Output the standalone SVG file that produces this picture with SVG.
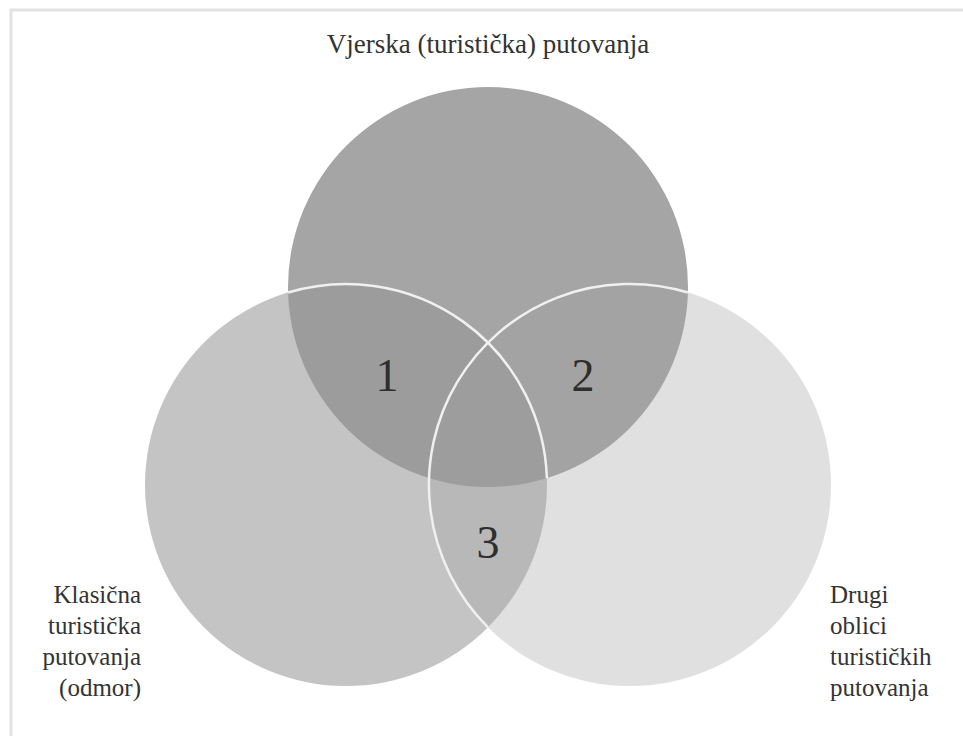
<svg xmlns="http://www.w3.org/2000/svg" width="963" height="736" viewBox="0 0 963 736">
<style>
  .lbl { font-family: "Liberation Serif", "DejaVu Serif", serif; font-size: 25px; fill: #333333; }
  .ttl { font-family: "Liberation Serif", "DejaVu Serif", serif; font-size: 27px; fill: #333333; text-anchor: middle; }
  .num { font-family: "Liberation Serif", "DejaVu Serif", serif; font-size: 46px; fill: #2e2e2e; text-anchor: middle; }
  .edge { fill: none; stroke: #f0f0f0; stroke-width: 2.5; }
</style>
<rect x="0" y="0" width="963" height="736" fill="#ffffff"/>
<path d="M11,736 V10 H963" fill="none" stroke="#e2e2e2" stroke-width="3"/>
<g id="node-religious">
  <circle cx="488" cy="287" r="200" fill="#a5a5a5"/>
  <text class="ttl" x="488" y="53">Vjerska (turistička) putovanja</text>
</g>
<g id="node-classic">
  <circle cx="346" cy="485" r="201" fill="#959595" fill-opacity="0.56"/>
  <text class="lbl" text-anchor="end"><tspan x="141" y="603">Klasična</tspan><tspan x="141" y="634">turistička</tspan><tspan x="141" y="665">putovanja</tspan><tspan x="141" y="696">(odmor)</tspan></text>
</g>
<g id="node-other">
  <circle cx="630" cy="485" r="201" fill="#a0a0a0" fill-opacity="0.33"/>
  <text class="lbl"><tspan x="830" y="603">Drugi</tspan><tspan x="830" y="634">oblici</tspan><tspan x="830" y="665">turističkih</tspan><tspan x="830" y="696">putovanja</tspan></text>
</g>
<g id="connectors">
  <path class="edge" d="M288.1,292.5 A201,201 0 0 1 546.9,478.1"/>
  <path class="edge" d="M687.9,292.5 A201,201 0 0 0 488,627.3"/>
</g>
<g id="region-1"><text class="num" x="387" y="391">1</text></g>
<g id="region-2"><text class="num" x="583" y="391">2</text></g>
<g id="region-3"><text class="num" x="488" y="558">3</text></g>
</svg>
